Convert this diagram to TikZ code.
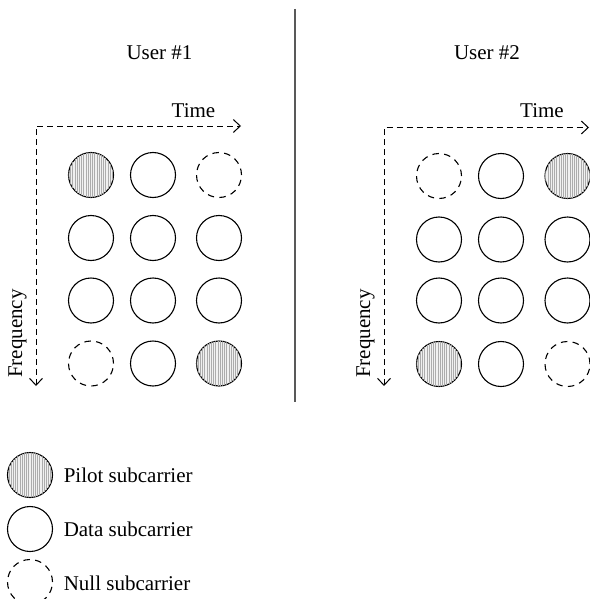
\documentclass[tikz,border=0pt]{standalone}
\usepackage{fontspec}
\setmainfont{Liberation Serif}
\usetikzlibrary{arrows.meta,positioning,patterns.meta}

\begin{document}
\begin{tikzpicture}[x=1pt, y=-1pt,
    every node/.style={font=\fontsize{21}{25}\selectfont},
    sc/.style={circle, minimum size=45pt, inner sep=0pt, line width=1.1pt},
    pilot/.style={sc, draw, fill=gray!12, postaction={pattern={Lines[angle=90, distance=2.2pt, line width=0.6pt]}, pattern color=gray!65}},
    datasc/.style={sc, draw},
    nullsc/.style={sc, draw, dash pattern=on 6.5pt off 5.3pt},
    axis/.style={line width=1pt, dash pattern=on 6pt off 4pt, {Straight Barb[length=7pt, width=13pt]}-{Straight Barb[length=7pt, width=13pt]}}]
    \useasboundingbox (0,0) rectangle (589,599);

    % Headings and divider
    \node (U1) at (159.5,52.5) {User \#1};
    \node (U2) at (487,52.5) {User \#2};
    \coordinate (D1) at (295,9);
    \coordinate (D2) at (295,402);
    \draw[line width=1.8pt, black!65] (D1) -- (D2);

    % User 1 axes
    \coordinate (O1) at (36,126);
    \coordinate (T1) at (241,126);
    \coordinate (F1) at (36,386);
    \draw[axis] (F1) -- (O1) -- (T1);
    \node (time1) at (193.5,111) {Time};
    \node[rotate=90] (freq1) at (17.5,333.5) {Frequency};

    % User 1 subcarriers
    \node[pilot]  (A11) at (91,175) {};
    \node[datasc] (A12) at (153,175) {};
    \node[nullsc] (A13) at (219,175) {};
    \node[datasc] (A21) at (91,238) {};
    \node[datasc] (A22) at (153,238) {};
    \node[datasc] (A23) at (219,238) {};
    \node[datasc] (A31) at (91,300.5) {};
    \node[datasc] (A32) at (153,300.5) {};
    \node[datasc] (A33) at (219,300.5) {};
    \node[nullsc] (A41) at (91,363.5) {};
    \node[datasc] (A42) at (153,363.5) {};
    \node[pilot]  (A43) at (219,363.5) {};

    % User 2 axes
    \coordinate (O2) at (384,127.5);
    \coordinate (T2) at (589,127.5);
    \coordinate (F2) at (384,386);
    \draw[axis] (F2) -- (O2) -- (T2);
    \node (time2) at (542,111) {Time};
    \node[rotate=90] (freq2) at (365.5,333.5) {Frequency};

    % User 2 subcarriers
    \node[nullsc] (B11) at (439,176) {};
    \node[datasc] (B12) at (501,176) {};
    \node[pilot]  (B13) at (567.5,176) {};
    \node[datasc] (B21) at (439,239.5) {};
    \node[datasc] (B22) at (501,239.5) {};
    \node[datasc] (B23) at (567.5,239.5) {};
    \node[datasc] (B31) at (439,300.5) {};
    \node[datasc] (B32) at (501,300.5) {};
    \node[datasc] (B33) at (567.5,300.5) {};
    \node[pilot]  (B41) at (439,364) {};
    \node[datasc] (B42) at (501,364) {};
    \node[nullsc] (B43) at (567.5,364) {};

    % Legend
    \node[pilot]  (L1) at (30,475) {};
    \node[datasc] (L2) at (30,529) {};
    \node[nullsc] (L3) at (30,582) {};
    \node[right=10.5pt of L1, inner sep=0pt] (pilotlbl) {Pilot subcarrier};
    \node[right=10.5pt of L2, inner sep=0pt] (datalbl) {Data subcarrier};
    \node[right=10.5pt of L3, inner sep=0pt, yshift=-1pt] (nulllbl) {Null subcarrier};
\end{tikzpicture}
\end{document}
